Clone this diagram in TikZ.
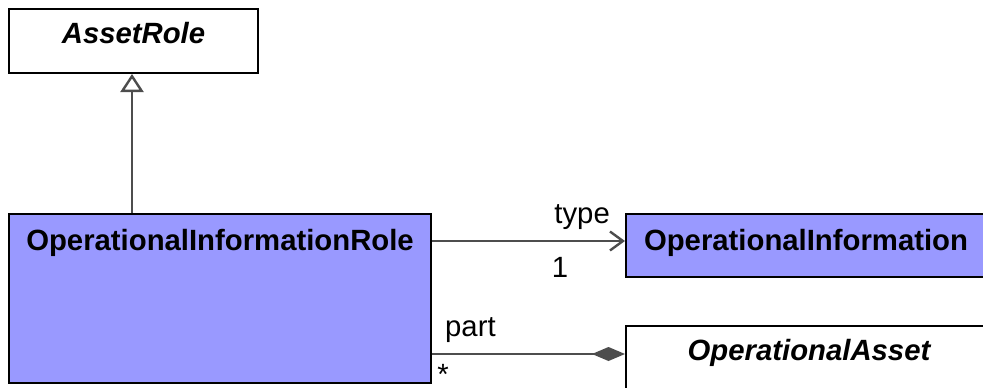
\documentclass[tikz,border=0pt]{standalone}
\usepackage{fontspec}
\setmainfont{Liberation Sans}
\usetikzlibrary{positioning,arrows.meta}
\definecolor{classblue}{HTML}{9999FF}
\definecolor{linegray}{HTML}{4D4D4D}

\begin{document}
\begin{tikzpicture}[x=1pt, y=1pt,
    classbox/.style={rectangle, draw=black, line width=2pt, fill=white, anchor=north west, inner sep=0pt},
    classname/.style={anchor=base, font=\fontsize{29.3}{35}\selectfont\bfseries},
    abstractname/.style={classname, font=\fontsize{29.3}{35}\selectfont\bfseries\itshape},
    rolelabel/.style={font=\fontsize{29.3}{35}\selectfont, inner sep=0pt},
    assoc/.style={draw=linegray, line width=2.4pt},
    >=Stealth]
    \useasboundingbox (0,0) rectangle (983,-388);

    % classes
    \node[classbox, minimum width=249, minimum height=64] (assetrole) at (8,-8) {};
    \node[abstractname] (assetrole-name) at ([yshift=-35.5]assetrole.north) {AssetRole};

    \node[classbox, fill=classblue, minimum width=422, minimum height=169] (oir) at (8,-213) {};
    \node[classname] (oir-name) at ([yshift=-37]oir.north) {OperationalInformationRole};

    \node[classbox, fill=classblue, minimum width=360, minimum height=63] (oinfo) at (625,-213) {};
    \node[classname] (oinfo-name) at ([yshift=-37]oinfo.north) {OperationalInformation};

    \node[classbox, minimum width=368, minimum height=100] (oasset) at (625,-325) {};
    \node[abstractname] (oasset-name) at ([yshift=-35.5]oasset.north west -| 809,0) {OperationalAsset};

    % generalization
    \draw[assoc, -{Triangle[open, length=18pt, width=23pt, fill=white]}]
        ([xshift=-1.5]assetrole.south |- oir.north) -- ([xshift=-1.5]assetrole.south);

    % type
    \draw[assoc, -{Straight Barb[length=13pt, width=19pt]}]
        ([yshift=-28]oir.north east) -- ([yshift=-28]oinfo.north west);
    \node[rolelabel, anchor=base east] (type-role) at (610,-223) {type};
    \node[rolelabel, anchor=base] (type-mult) at (560,-277) {1};

    % part
    \draw[assoc, -{Diamond[length=33pt, width=14pt, fill=linegray]}]
        ([yshift=-29]oir.north east |- oasset.north) -- ([yshift=-29]oasset.north west);
    \node[rolelabel, anchor=base west] (part-role) at (445,-336) {part};
    \node[rolelabel, anchor=base, text depth=0pt] (part-mult) at (443,-384) {*};
\end{tikzpicture}
\end{document}
